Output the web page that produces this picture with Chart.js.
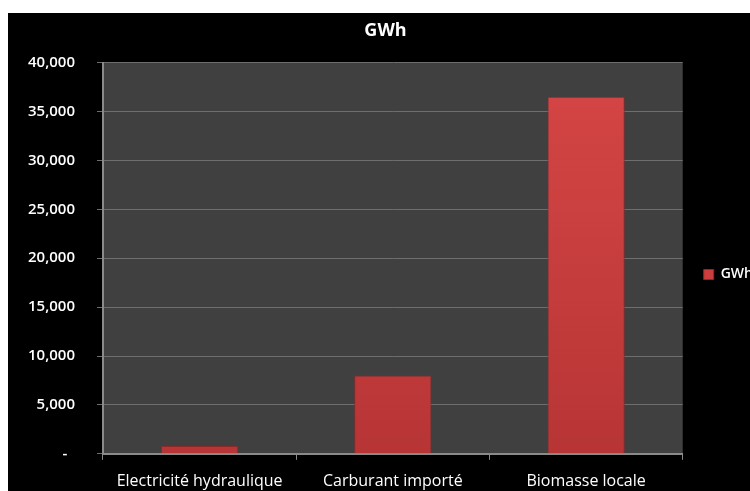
<!DOCTYPE html>
<html>
<head>
<meta charset="utf-8">
<script src="https://cdn.jsdelivr.net/npm/chart.js@4.4.1/dist/chart.umd.min.js"></script>
<style>
  html, body { margin: 0; padding: 0; background: #ffffff; overflow: hidden; width: 750px; height: 491px; position: relative; }
  #wrap { position: absolute; left: 8px; top: 13px; width: 755px; height: 492px; background: #000000; }
</style>
</head>
<body>
<div id="wrap"><canvas id="c" width="755" height="492"></canvas></div>
<script>
const categories = ['Electricité hydraulique', 'Carburant importé', 'Biomasse locale'];
const seriesName = 'GWh';
const seriesValues = [800, 8000, 36500];
const yTickValues = [0, 5000, 10000, 15000, 20000, 25000, 30000, 35000, 40000];
const yTickLabels = ['-', '5,000', '10,000', '15,000', '20,000', '25,000', '30,000', '35,000', '40,000'];

const FONT = '"Open Sans", "DejaVu Sans", sans-serif';

const plotBg = {
  id: 'plotBg',
  beforeDraw(chart) {
    const a = chart.chartArea, ctx = chart.ctx;
    ctx.save();
    ctx.fillStyle = '#404040';
    ctx.fillRect(a.left, a.top, a.right - a.left, a.bottom - a.top);
    ctx.restore();
  }
};

function barFill(context) {
  const chart = context.chart;
  const a = chart.chartArea;
  if (!a) return '#c93c3c';
  const g = chart.ctx.createLinearGradient(0, a.top, 0, a.bottom);
  g.addColorStop(0, '#d64646');
  g.addColorStop(1, '#b83535');
  return g;
}

new Chart(document.getElementById('c'), {
  type: 'bar',
  data: {
    labels: categories,
    datasets: [{
      label: seriesName,
      data: seriesValues,
      backgroundColor: barFill,
      borderColor: '#8c2a2a',
      borderWidth: 1,
      categoryPercentage: 1,
      barPercentage: 0.4
    }]
  },
  plugins: [plotBg],
  options: {
    responsive: false,
    animation: false,
    layout: { padding: { left: 0, right: 0, top: 0, bottom: 2 } },
    plugins: {
      title: {
        display: true,
        text: 'GWh',
        color: '#ffffff',
        font: { family: FONT, size: 18, weight: 'bold' },
        padding: { top: 7, bottom: 21 }
      },
      legend: {
        display: true,
        position: 'right',
        title: { display: true, text: ' ', font: { family: FONT, size: 10 }, padding: { top: 0, bottom: 21 } },
        labels: {
          color: '#ffffff',
          font: { family: FONT, size: 14, weight: '600' },
          boxWidth: 10,
          boxHeight: 10,
          padding: 21,
          generateLabels(chart) {
            return [{ text: seriesName, fillStyle: '#cc3d3d', strokeStyle: '#8c2a2a', lineWidth: 1, fontColor: '#ffffff', datasetIndex: 0 }];
          }
        }
      },
      tooltip: { enabled: false }
    },
    scales: {
      x: {
        offset: true,
        grid: { display: true, offset: true, drawOnChartArea: false, color: '#8a8a8a', tickLength: 6 },
        border: { display: true, color: '#8a8a8a', width: 2 },
        ticks: { color: '#ffffff', font: { family: FONT, size: 16 }, padding: 12, maxRotation: 0 }
      },
      y: {
        min: 0,
        max: 40000,
        afterBuildTicks(scale) { scale.ticks = yTickValues.map(v => ({ value: v })); },
        afterFit(scale) { scale.width = 95; },
        grid: { color: '#6e6e6e', tickLength: 6, lineWidth: 1 },
        border: { display: true, color: '#8a8a8a', width: 2 },
        ticks: {
          color: '#ffffff',
          font: { family: FONT, size: 15, weight: '600' },
          padding: 22,
          callback(value, index) {
            const lbl = yTickLabels[yTickValues.indexOf(value)];
            return value === 0 ? lbl + '\u00a0\u00a0' : lbl;
          }
        }
      }
    }
  }
});
</script>
</body>
</html>
